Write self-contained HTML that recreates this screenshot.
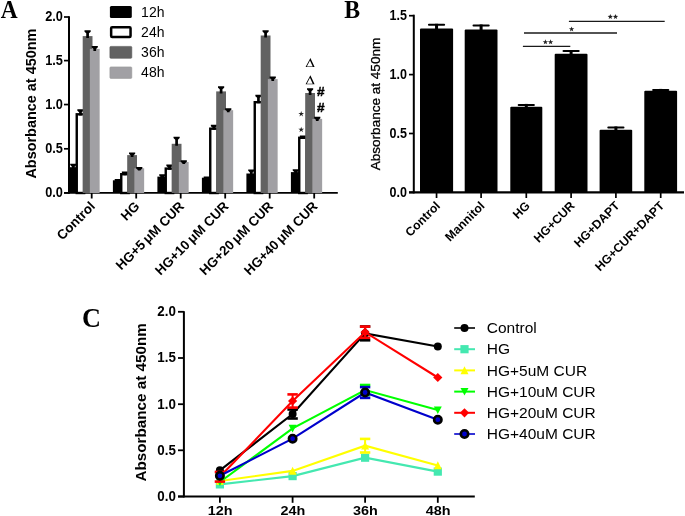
<!DOCTYPE html>
<html><head><meta charset="utf-8"><style>
html,body{margin:0;padding:0;background:#fff;}
svg{display:block;will-change:transform;}
</style></head><body>
<svg width="685" height="516" viewBox="0 0 685 516">
<rect width="685" height="516" fill="#fff"/>
<text transform="translate(0.8,17.6) scale(1,1.12)" font-family='"Liberation Serif", serif' font-weight="bold" font-size="23.4">A</text>
<line x1="69" y1="16.2" x2="69" y2="193.8" stroke="#000" stroke-width="2"/>
<line x1="64" y1="192.9" x2="337.8" y2="192.9" stroke="#000" stroke-width="1.9"/>
<line x1="64" y1="192.90" x2="69" y2="192.90" stroke="#000" stroke-width="1.7"/>
<text transform="translate(62.9,197.20) scale(0.91,1)" text-anchor="end" font-family='"Liberation Sans", sans-serif' font-weight="bold" font-size="14.0">0.0</text>
<line x1="64" y1="148.80" x2="69" y2="148.80" stroke="#000" stroke-width="1.7"/>
<text transform="translate(62.9,153.10) scale(0.91,1)" text-anchor="end" font-family='"Liberation Sans", sans-serif' font-weight="bold" font-size="14.0">0.5</text>
<line x1="64" y1="104.55" x2="69" y2="104.55" stroke="#000" stroke-width="1.7"/>
<text transform="translate(62.9,108.85) scale(0.91,1)" text-anchor="end" font-family='"Liberation Sans", sans-serif' font-weight="bold" font-size="14.0">1.0</text>
<line x1="64" y1="60.60" x2="69" y2="60.60" stroke="#000" stroke-width="1.7"/>
<text transform="translate(62.9,64.90) scale(0.91,1)" text-anchor="end" font-family='"Liberation Sans", sans-serif' font-weight="bold" font-size="14.0">1.5</text>
<line x1="64" y1="17.00" x2="69" y2="17.00" stroke="#000" stroke-width="1.7"/>
<text transform="translate(62.9,21.30) scale(0.91,1)" text-anchor="end" font-family='"Liberation Sans", sans-serif' font-weight="bold" font-size="14.0">2.0</text>
<text transform="translate(35.6,103.6) rotate(-90)" text-anchor="middle" font-family='"Liberation Sans", sans-serif' font-weight="bold" font-size="15.0" textLength="150" lengthAdjust="spacingAndGlyphs">Absorbance at 450nm</text>
<rect x="68.40" y="167.20" width="9.80" height="25.80" fill="#000"/>
<polygon points="70.20,163.70 76.40,163.70 76.40,165.10 74.65,166.70 74.65,169.20 71.95,169.20 71.95,166.70 70.20,165.10" fill="#000"/>
<rect x="76.75" y="114.30" width="7.40" height="78.70" fill="#fff" stroke="#000" stroke-width="2.4"/>
<polygon points="77.35,109.30 83.55,109.30 83.55,110.70 81.80,112.30 81.80,115.40 79.10,115.40 79.10,112.30 77.35,110.70" fill="#000"/>
<rect x="82.70" y="36.10" width="9.80" height="156.90" fill="#626262"/>
<polygon points="84.50,30.30 90.70,30.30 90.70,31.70 88.95,33.30 88.95,38.10 86.25,38.10 86.25,33.30 84.50,31.70" fill="#000"/>
<rect x="89.85" y="48.90" width="9.80" height="144.10" fill="#a1a0a4"/>
<polygon points="91.65,45.90 97.85,45.90 97.85,47.30 96.10,48.90 96.10,50.90 93.40,50.90 93.40,48.90 91.65,47.30" fill="#000"/>
<line x1="91.70" y1="193" x2="91.70" y2="198.5" stroke="#000" stroke-width="1.8"/>
<rect x="112.90" y="180.30" width="9.80" height="12.70" fill="#000"/>
<polygon points="114.70,179.10 120.90,179.10 120.90,180.50 119.15,182.10 119.15,182.50 116.45,182.50 116.45,182.10 114.70,180.50" fill="#000"/>
<rect x="121.25" y="174.20" width="7.40" height="18.80" fill="#fff" stroke="#000" stroke-width="2.4"/>
<polygon points="121.85,171.40 128.05,171.40 128.05,172.80 126.30,174.40 126.30,175.30 123.60,175.30 123.60,174.40 121.85,172.80" fill="#000"/>
<rect x="127.20" y="155.10" width="9.80" height="37.90" fill="#626262"/>
<polygon points="129.00,152.40 135.20,152.40 135.20,153.80 133.45,155.40 133.45,157.10 130.75,157.10 130.75,155.40 129.00,153.80" fill="#000"/>
<rect x="134.35" y="168.30" width="9.80" height="24.70" fill="#a1a0a4"/>
<polygon points="136.15,167.10 142.35,167.10 142.35,168.50 140.60,170.10 140.60,170.50 137.90,170.50 137.90,170.10 136.15,168.50" fill="#000"/>
<line x1="136.20" y1="193" x2="136.20" y2="198.5" stroke="#000" stroke-width="1.8"/>
<rect x="157.40" y="176.60" width="9.80" height="16.40" fill="#000"/>
<polygon points="159.20,174.20 165.40,174.20 165.40,175.60 163.65,177.20 163.65,178.60 160.95,178.60 160.95,177.20 159.20,175.60" fill="#000"/>
<rect x="165.75" y="168.60" width="7.40" height="24.40" fill="#fff" stroke="#000" stroke-width="2.4"/>
<polygon points="166.35,164.50 172.55,164.50 172.55,165.90 170.80,167.50 170.80,169.70 168.10,169.70 168.10,167.50 166.35,165.90" fill="#000"/>
<rect x="171.70" y="143.80" width="9.80" height="49.20" fill="#626262"/>
<polygon points="173.50,136.70 179.70,136.70 179.70,138.10 177.95,139.70 177.95,145.80 175.25,145.80 175.25,139.70 173.50,138.10" fill="#000"/>
<rect x="178.85" y="162.00" width="9.80" height="31.00" fill="#a1a0a4"/>
<polygon points="180.65,160.30 186.85,160.30 186.85,161.70 185.10,163.30 185.10,164.00 182.40,164.00 182.40,163.30 180.65,161.70" fill="#000"/>
<line x1="180.70" y1="193" x2="180.70" y2="198.5" stroke="#000" stroke-width="1.8"/>
<rect x="201.90" y="177.70" width="9.80" height="15.30" fill="#000"/>
<polygon points="203.70,176.60 209.90,176.60 209.90,178.00 208.15,179.60 208.15,180.00 205.45,180.00 205.45,179.60 203.70,178.00" fill="#000"/>
<rect x="210.25" y="128.70" width="7.40" height="64.30" fill="#fff" stroke="#000" stroke-width="2.4"/>
<polygon points="210.85,124.80 217.05,124.80 217.05,126.20 215.30,127.80 215.30,129.80 212.60,129.80 212.60,127.80 210.85,126.20" fill="#000"/>
<rect x="216.20" y="91.40" width="9.80" height="101.60" fill="#626262"/>
<polygon points="218.00,86.30 224.20,86.30 224.20,87.70 222.45,89.30 222.45,93.40 219.75,93.40 219.75,89.30 218.00,87.70" fill="#000"/>
<rect x="223.35" y="110.20" width="9.80" height="82.80" fill="#a1a0a4"/>
<polygon points="225.15,108.30 231.35,108.30 231.35,109.70 229.60,111.30 229.60,112.20 226.90,112.20 226.90,111.30 225.15,109.70" fill="#000"/>
<line x1="225.20" y1="193" x2="225.20" y2="198.5" stroke="#000" stroke-width="1.8"/>
<rect x="246.40" y="173.50" width="9.80" height="19.50" fill="#000"/>
<polygon points="248.20,169.40 254.40,169.40 254.40,170.80 252.65,172.40 252.65,175.50 249.95,175.50 249.95,172.40 248.20,170.80" fill="#000"/>
<rect x="254.75" y="102.20" width="7.40" height="90.80" fill="#fff" stroke="#000" stroke-width="2.4"/>
<polygon points="255.35,94.80 261.55,94.80 261.55,96.20 259.80,97.80 259.80,103.30 257.10,103.30 257.10,97.80 255.35,96.20" fill="#000"/>
<rect x="260.70" y="35.50" width="9.80" height="157.50" fill="#626262"/>
<polygon points="262.50,30.20 268.70,30.20 268.70,31.60 266.95,33.20 266.95,37.50 264.25,37.50 264.25,33.20 262.50,31.60" fill="#000"/>
<rect x="267.85" y="79.10" width="9.80" height="113.90" fill="#a1a0a4"/>
<polygon points="269.65,76.50 275.85,76.50 275.85,77.90 274.10,79.50 274.10,81.10 271.40,81.10 271.40,79.50 269.65,77.90" fill="#000"/>
<line x1="269.70" y1="193" x2="269.70" y2="198.5" stroke="#000" stroke-width="1.8"/>
<rect x="290.90" y="172.10" width="9.80" height="20.90" fill="#000"/>
<polygon points="292.70,169.20 298.90,169.20 298.90,170.60 297.15,172.20 297.15,174.10 294.45,174.10 294.45,172.20 292.70,170.60" fill="#000"/>
<rect x="299.25" y="137.80" width="7.40" height="55.20" fill="#fff" stroke="#000" stroke-width="2.4"/>
<polygon points="299.85,135.60 306.05,135.60 306.05,137.00 304.30,138.60 304.30,139.00 301.60,139.00 301.60,138.60 299.85,137.00" fill="#000"/>
<rect x="305.20" y="93.00" width="9.80" height="100.00" fill="#626262"/>
<polygon points="307.00,88.20 313.20,88.20 313.20,89.60 311.45,91.20 311.45,95.00 308.75,95.00 308.75,91.20 307.00,89.60" fill="#000"/>
<rect x="312.35" y="118.90" width="9.80" height="74.10" fill="#a1a0a4"/>
<polygon points="314.15,116.80 320.35,116.80 320.35,118.20 318.60,119.80 318.60,120.90 315.90,120.90 315.90,119.80 314.15,118.20" fill="#000"/>
<line x1="314.20" y1="193" x2="314.20" y2="198.5" stroke="#000" stroke-width="1.8"/>
<text transform="translate(95.90,207.20) rotate(-45)" text-anchor="end" font-family='"Liberation Sans", sans-serif' font-weight="bold" font-size="13.4">Control</text>
<text transform="translate(140.40,207.20) rotate(-45)" text-anchor="end" font-family='"Liberation Sans", sans-serif' font-weight="bold" font-size="13.4">HG</text>
<text transform="translate(184.90,207.20) rotate(-45)" text-anchor="end" font-family='"Liberation Sans", sans-serif' font-weight="bold" font-size="13.4">HG+5 <tspan dx="-1.3">μ</tspan>M CUR</text>
<text transform="translate(229.40,207.20) rotate(-45)" text-anchor="end" font-family='"Liberation Sans", sans-serif' font-weight="bold" font-size="13.4">HG+10 <tspan dx="-1.3">μ</tspan>M CUR</text>
<text transform="translate(273.90,207.20) rotate(-45)" text-anchor="end" font-family='"Liberation Sans", sans-serif' font-weight="bold" font-size="13.4">HG+20 <tspan dx="-1.3">μ</tspan>M CUR</text>
<text transform="translate(318.40,207.20) rotate(-45)" text-anchor="end" font-family='"Liberation Sans", sans-serif' font-weight="bold" font-size="13.4">HG+40 <tspan dx="-1.3">μ</tspan>M CUR</text>
<rect x="109.9" y="5.9" width="21.9" height="12" rx="1.5" fill="#000"/>
<rect x="111.15" y="27.35" width="19.4" height="9.7" rx="1" fill="#fff" stroke="#000" stroke-width="2.5"/>
<rect x="109.9" y="46.4" width="21.9" height="11.9" rx="1" fill="#626262" stroke="#555" stroke-width="0.6"/>
<rect x="109.9" y="66.9" width="21.9" height="11.5" rx="1" fill="#a1a0a4" stroke="#999" stroke-width="0.6"/>
<text x="141.1" y="16.80" font-family='"Liberation Sans", sans-serif' font-size="14">12h</text>
<text x="141.1" y="36.90" font-family='"Liberation Sans", sans-serif' font-size="14">24h</text>
<text x="141.1" y="57.00" font-family='"Liberation Sans", sans-serif' font-size="14">36h</text>
<text x="141.1" y="77.10" font-family='"Liberation Sans", sans-serif' font-size="14">48h</text>
<path d="M310.40,58.00 L314.60,67.00 L305.60,67.00 Z M309.97,60.62 L312.73,66.55 L306.80,66.55 Z" fill="#000" fill-rule="evenodd"/>
<path d="M310.40,75.20 L314.60,84.20 L305.60,84.20 Z M309.97,77.82 L312.73,83.75 L306.80,83.75 Z" fill="#000" fill-rule="evenodd"/>
<text x="316.9" y="96.1" font-family='"Liberation Sans", sans-serif' font-weight="bold" font-size="13.6" stroke="#000" stroke-width="0.45">#</text>
<text x="316.9" y="112.3" font-family='"Liberation Sans", sans-serif' font-weight="bold" font-size="13.6" stroke="#000" stroke-width="0.45">#</text>
<polygon points="301.20,111.00 301.85,113.11 304.05,113.07 302.25,114.34 302.96,116.43 301.20,115.10 299.44,116.43 300.15,114.34 298.35,113.07 300.55,113.11" fill="#222"/>
<polygon points="301.20,126.70 301.85,128.81 304.05,128.77 302.25,130.04 302.96,132.13 301.20,130.80 299.44,132.13 300.15,130.04 298.35,128.77 300.55,128.81" fill="#222"/>
<text transform="translate(344.3,17.5) scale(1,1.08)" font-family='"Liberation Serif", serif' font-weight="bold" font-size="23.8">B</text>
<line x1="413.8" y1="14.7" x2="413.8" y2="193.4" stroke="#000" stroke-width="2"/>
<line x1="409" y1="192.4" x2="684" y2="192.4" stroke="#000" stroke-width="2.2"/>
<line x1="409" y1="192.40" x2="413.8" y2="192.40" stroke="#000" stroke-width="1.7"/>
<text transform="translate(406.9,196.70) scale(0.9,1)" text-anchor="end" font-family='"Liberation Sans", sans-serif' font-weight="bold" font-size="13.9">0.0</text>
<line x1="409" y1="133.50" x2="413.8" y2="133.50" stroke="#000" stroke-width="1.7"/>
<text transform="translate(406.9,137.80) scale(0.9,1)" text-anchor="end" font-family='"Liberation Sans", sans-serif' font-weight="bold" font-size="13.9">0.5</text>
<line x1="409" y1="74.60" x2="413.8" y2="74.60" stroke="#000" stroke-width="1.7"/>
<text transform="translate(406.9,78.90) scale(0.9,1)" text-anchor="end" font-family='"Liberation Sans", sans-serif' font-weight="bold" font-size="13.9">1.0</text>
<line x1="409" y1="15.70" x2="413.8" y2="15.70" stroke="#000" stroke-width="1.7"/>
<text transform="translate(406.9,20.00) scale(0.9,1)" text-anchor="end" font-family='"Liberation Sans", sans-serif' font-weight="bold" font-size="13.9">1.5</text>
<text transform="translate(379.6,104) rotate(-90)" text-anchor="middle" font-family='"Liberation Sans", sans-serif' font-size="13.5" stroke="#000" stroke-width="0.3" textLength="132.5" lengthAdjust="spacingAndGlyphs">Absorbance at 450nm</text>
<rect x="420.00" y="28.50" width="33.10" height="163.90" rx="1" fill="#000"/>
<rect x="435.05" y="23.80" width="3" height="5.70" fill="#000"/>
<rect x="427.95" y="23.80" width="17.2" height="2" rx="1" fill="#000"/>
<line x1="436.55" y1="192" x2="436.55" y2="198" stroke="#000" stroke-width="1.7"/>
<text transform="translate(440.95,206.60) rotate(-45)" text-anchor="end" font-family='"Liberation Sans", sans-serif' font-weight="bold" font-size="12.2">Control</text>
<rect x="464.70" y="29.50" width="32.80" height="162.90" rx="1" fill="#000"/>
<rect x="479.60" y="24.50" width="3" height="6.00" fill="#000"/>
<rect x="472.50" y="24.50" width="17.2" height="2" rx="1" fill="#000"/>
<line x1="481.10" y1="192" x2="481.10" y2="198" stroke="#000" stroke-width="1.7"/>
<text transform="translate(485.50,206.60) rotate(-45)" text-anchor="end" font-family='"Liberation Sans", sans-serif' font-weight="bold" font-size="12.2">Mannitol</text>
<rect x="510.30" y="106.80" width="32.00" height="85.60" rx="1" fill="#000"/>
<rect x="524.80" y="103.90" width="3" height="3.90" fill="#000"/>
<rect x="517.70" y="103.90" width="17.2" height="2" rx="1" fill="#000"/>
<line x1="526.30" y1="192" x2="526.30" y2="198" stroke="#000" stroke-width="1.7"/>
<text transform="translate(530.70,206.60) rotate(-45)" text-anchor="end" font-family='"Liberation Sans", sans-serif' font-weight="bold" font-size="12.2">HG</text>
<rect x="554.70" y="53.80" width="32.80" height="138.60" rx="1" fill="#000"/>
<rect x="569.60" y="50.10" width="3" height="4.70" fill="#000"/>
<rect x="562.50" y="50.10" width="17.2" height="2" rx="1" fill="#000"/>
<line x1="571.10" y1="192" x2="571.10" y2="198" stroke="#000" stroke-width="1.7"/>
<text transform="translate(575.50,206.60) rotate(-45)" text-anchor="end" font-family='"Liberation Sans", sans-serif' font-weight="bold" font-size="12.2">HG+CUR</text>
<rect x="599.60" y="129.70" width="32.60" height="62.70" rx="1" fill="#000"/>
<rect x="614.40" y="126.50" width="3" height="4.20" fill="#000"/>
<rect x="607.30" y="126.50" width="17.2" height="2" rx="1" fill="#000"/>
<line x1="615.90" y1="192" x2="615.90" y2="198" stroke="#000" stroke-width="1.7"/>
<text transform="translate(620.30,206.60) rotate(-45)" text-anchor="end" font-family='"Liberation Sans", sans-serif' font-weight="bold" font-size="12.2">HG+DAPT</text>
<rect x="644.30" y="90.80" width="32.80" height="101.60" rx="1" fill="#000"/>
<rect x="659.20" y="88.90" width="3" height="2.90" fill="#000"/>
<rect x="652.10" y="88.90" width="17.2" height="2" rx="1" fill="#000"/>
<line x1="660.70" y1="192" x2="660.70" y2="198" stroke="#000" stroke-width="1.7"/>
<text transform="translate(665.10,206.60) rotate(-45)" text-anchor="end" font-family='"Liberation Sans", sans-serif' font-weight="bold" font-size="12.2">HG+CUR+DAPT</text>
<line x1="568.9" y1="21.4" x2="664.7" y2="21.4" stroke="#1a1a1a" stroke-width="1.4"/>
<polygon points="610.30,14.00 610.98,15.87 612.96,15.93 611.39,17.16 611.95,19.07 610.30,17.95 608.65,19.07 609.21,17.16 607.64,15.93 609.62,15.87" fill="#222"/>
<polygon points="615.50,14.00 616.18,15.87 618.16,15.93 616.59,17.16 617.15,19.07 615.50,17.95 613.85,19.07 614.41,17.16 612.84,15.93 614.82,15.87" fill="#222"/>
<line x1="524" y1="33.0" x2="617" y2="33.0" stroke="#1a1a1a" stroke-width="1.4"/>
<polygon points="571.60,26.40 572.28,28.27 574.26,28.33 572.69,29.56 573.25,31.47 571.60,30.35 569.95,31.47 570.51,29.56 568.94,28.33 570.92,28.27" fill="#222"/>
<line x1="522.9" y1="46.4" x2="570.3" y2="46.4" stroke="#1a1a1a" stroke-width="1.4"/>
<polygon points="545.40,39.30 546.08,41.17 548.06,41.23 546.49,42.46 547.05,44.37 545.40,43.25 543.75,44.37 544.31,42.46 542.74,41.23 544.72,41.17" fill="#222"/>
<polygon points="550.60,39.30 551.28,41.17 553.26,41.23 551.69,42.46 552.25,44.37 550.60,43.25 548.95,44.37 549.51,42.46 547.94,41.23 549.92,41.17" fill="#222"/>
<text transform="translate(82,326.5) scale(1,1.074)" font-family='"Liberation Serif", serif' font-weight="bold" font-size="26.2">C</text>
<line x1="183.9" y1="311.2" x2="183.9" y2="497.4" stroke="#000" stroke-width="2"/>
<line x1="178" y1="496.5" x2="474.8" y2="496.5" stroke="#000" stroke-width="1.9"/>
<line x1="178" y1="496.50" x2="183.9" y2="496.50" stroke="#000" stroke-width="1.8"/>
<text transform="translate(175.9,500.80) scale(0.885,1)" text-anchor="end" font-family='"Liberation Sans", sans-serif' font-weight="bold" font-size="15.1">0.0</text>
<line x1="178" y1="450.30" x2="183.9" y2="450.30" stroke="#000" stroke-width="1.8"/>
<text transform="translate(175.9,454.60) scale(0.885,1)" text-anchor="end" font-family='"Liberation Sans", sans-serif' font-weight="bold" font-size="15.1">0.5</text>
<line x1="178" y1="404.20" x2="183.9" y2="404.20" stroke="#000" stroke-width="1.8"/>
<text transform="translate(175.9,408.50) scale(0.885,1)" text-anchor="end" font-family='"Liberation Sans", sans-serif' font-weight="bold" font-size="15.1">1.0</text>
<line x1="178" y1="358.00" x2="183.9" y2="358.00" stroke="#000" stroke-width="1.8"/>
<text transform="translate(175.9,362.30) scale(0.885,1)" text-anchor="end" font-family='"Liberation Sans", sans-serif' font-weight="bold" font-size="15.1">1.5</text>
<line x1="178" y1="311.80" x2="183.9" y2="311.80" stroke="#000" stroke-width="1.8"/>
<text transform="translate(175.9,316.10) scale(0.885,1)" text-anchor="end" font-family='"Liberation Sans", sans-serif' font-weight="bold" font-size="15.1">2.0</text>
<text transform="translate(145.9,402.4) rotate(-90)" text-anchor="middle" font-family='"Liberation Sans", sans-serif' font-weight="bold" font-size="15.4" textLength="158.4" lengthAdjust="spacingAndGlyphs">Absorbance at 450nm</text>
<line x1="219.9" y1="496.5" x2="219.9" y2="502.8" stroke="#000" stroke-width="1.8"/>
<text x="220.20000000000002" y="514.6" text-anchor="middle" font-family='"Liberation Sans", sans-serif' font-weight="bold" font-size="13.4" textLength="24.8" lengthAdjust="spacingAndGlyphs">12h</text>
<line x1="292.6" y1="496.5" x2="292.6" y2="502.8" stroke="#000" stroke-width="1.8"/>
<text x="292.90000000000003" y="514.6" text-anchor="middle" font-family='"Liberation Sans", sans-serif' font-weight="bold" font-size="13.4" textLength="24.8" lengthAdjust="spacingAndGlyphs">24h</text>
<line x1="365.1" y1="496.5" x2="365.1" y2="502.8" stroke="#000" stroke-width="1.8"/>
<text x="365.40000000000003" y="514.6" text-anchor="middle" font-family='"Liberation Sans", sans-serif' font-weight="bold" font-size="13.4" textLength="24.8" lengthAdjust="spacingAndGlyphs">36h</text>
<line x1="437.8" y1="496.5" x2="437.8" y2="502.8" stroke="#000" stroke-width="1.8"/>
<text x="438.1" y="514.6" text-anchor="middle" font-family='"Liberation Sans", sans-serif' font-weight="bold" font-size="13.4" textLength="24.8" lengthAdjust="spacingAndGlyphs">48h</text>
<polyline points="219.9,470.3 292.6,414.0 365.1,333.4 437.8,346.5" fill="none" stroke="#000" stroke-width="2.1"/>
<line x1="292.6" y1="409.5" x2="292.6" y2="418.5" stroke="#000" stroke-width="2"/>
<line x1="287.40000000000003" y1="409.5" x2="297.8" y2="409.5" stroke="#000" stroke-width="2.6"/>
<line x1="287.40000000000003" y1="418.5" x2="297.8" y2="418.5" stroke="#000" stroke-width="2.6"/>
<line x1="365.1" y1="326.5" x2="365.1" y2="340.29999999999995" stroke="#000" stroke-width="2"/>
<line x1="359.90000000000003" y1="326.5" x2="370.3" y2="326.5" stroke="#000" stroke-width="2.6"/>
<line x1="359.90000000000003" y1="340.29999999999995" x2="370.3" y2="340.29999999999995" stroke="#000" stroke-width="2.6"/>
<circle cx="219.9" cy="470.3" r="4" fill="#000"/>
<circle cx="292.6" cy="414.0" r="4" fill="#000"/>
<circle cx="365.1" cy="333.4" r="4" fill="#000"/>
<circle cx="437.8" cy="346.5" r="4" fill="#000"/>
<polyline points="219.9,484.4 292.6,476.1 365.1,457.7 437.8,471.6" fill="none" stroke="#44e8b0" stroke-width="2.1"/>
<rect x="215.8" y="480.29999999999995" width="8.2" height="8.2" fill="#44e8b0"/>
<rect x="288.5" y="472.0" width="8.2" height="8.2" fill="#44e8b0"/>
<rect x="361.0" y="453.59999999999997" width="8.2" height="8.2" fill="#44e8b0"/>
<rect x="433.7" y="467.5" width="8.2" height="8.2" fill="#44e8b0"/>
<polyline points="219.9,481.0 292.6,470.9 365.1,445.7 437.8,465.4" fill="none" stroke="#ffff00" stroke-width="2.1"/>
<line x1="365.1" y1="438.9" x2="365.1" y2="452.5" stroke="#ffff00" stroke-width="2"/>
<line x1="359.90000000000003" y1="438.9" x2="370.3" y2="438.9" stroke="#ffff00" stroke-width="2.6"/>
<line x1="359.90000000000003" y1="452.5" x2="370.3" y2="452.5" stroke="#ffff00" stroke-width="2.6"/>
<polygon points="219.9,476.8 223.9,484.8 215.9,484.8" fill="#ffff00"/>
<polygon points="292.6,466.7 296.6,474.7 288.6,474.7" fill="#ffff00"/>
<polygon points="365.1,441.5 369.1,449.5 361.1,449.5" fill="#ffff00"/>
<polygon points="437.8,461.2 441.8,469.2 433.8,469.2" fill="#ffff00"/>
<polyline points="219.9,482.0 292.6,428.4 365.1,390.0 437.8,410.0" fill="none" stroke="#00ff00" stroke-width="2.1"/>
<line x1="365.1" y1="385.0" x2="365.1" y2="395.0" stroke="#00ff00" stroke-width="2"/>
<line x1="359.90000000000003" y1="385.0" x2="370.3" y2="385.0" stroke="#00ff00" stroke-width="2.6"/>
<line x1="359.90000000000003" y1="395.0" x2="370.3" y2="395.0" stroke="#00ff00" stroke-width="2.6"/>
<polygon points="215.9,478.4 223.9,478.4 219.9,486.0" fill="#00ff00"/>
<polygon points="288.6,424.79999999999995 296.6,424.79999999999995 292.6,432.4" fill="#00ff00"/>
<polygon points="361.1,386.4 369.1,386.4 365.1,394.0" fill="#00ff00"/>
<polygon points="433.8,406.4 441.8,406.4 437.8,414.0" fill="#00ff00"/>
<polyline points="219.9,476.8 292.6,401.0 365.1,332.2 437.8,377.5" fill="none" stroke="#ff0000" stroke-width="2.1"/>
<line x1="219.9" y1="472.0" x2="219.9" y2="481.6" stroke="#ff0000" stroke-width="2"/>
<line x1="214.70000000000002" y1="472.0" x2="225.1" y2="472.0" stroke="#ff0000" stroke-width="2.6"/>
<line x1="214.70000000000002" y1="481.6" x2="225.1" y2="481.6" stroke="#ff0000" stroke-width="2.6"/>
<line x1="292.6" y1="394.4" x2="292.6" y2="407.6" stroke="#ff0000" stroke-width="2"/>
<line x1="287.40000000000003" y1="394.4" x2="297.8" y2="394.4" stroke="#ff0000" stroke-width="2.6"/>
<line x1="287.40000000000003" y1="407.6" x2="297.8" y2="407.6" stroke="#ff0000" stroke-width="2.6"/>
<line x1="365.1" y1="326.59999999999997" x2="365.1" y2="337.8" stroke="#ff0000" stroke-width="2"/>
<line x1="359.90000000000003" y1="326.59999999999997" x2="370.3" y2="326.59999999999997" stroke="#ff0000" stroke-width="2.6"/>
<line x1="359.90000000000003" y1="337.8" x2="370.3" y2="337.8" stroke="#ff0000" stroke-width="2.6"/>
<polygon points="219.9,472.2 224.5,476.8 219.9,481.40000000000003 215.3,476.8" fill="#ff0000"/>
<polygon points="292.6,396.4 297.20000000000005,401.0 292.6,405.6 288.0,401.0" fill="#ff0000"/>
<polygon points="365.1,327.59999999999997 369.70000000000005,332.2 365.1,336.8 360.5,332.2" fill="#ff0000"/>
<polygon points="437.8,372.9 442.40000000000003,377.5 437.8,382.1 433.2,377.5" fill="#ff0000"/>
<polyline points="219.9,475.8 292.6,438.7 365.1,392.5 437.8,419.7" fill="none" stroke="#0000cc" stroke-width="2.1"/>
<line x1="365.1" y1="387.1" x2="365.1" y2="397.9" stroke="#0000cc" stroke-width="2"/>
<line x1="359.90000000000003" y1="387.1" x2="370.3" y2="387.1" stroke="#0000cc" stroke-width="2.6"/>
<line x1="359.90000000000003" y1="397.9" x2="370.3" y2="397.9" stroke="#0000cc" stroke-width="2.6"/>
<circle cx="219.9" cy="475.8" r="3.7" fill="#0000cc" stroke="#000" stroke-width="2.6"/>
<circle cx="292.6" cy="438.7" r="3.7" fill="#0000cc" stroke="#000" stroke-width="2.6"/>
<circle cx="365.1" cy="392.5" r="3.7" fill="#0000cc" stroke="#000" stroke-width="2.6"/>
<circle cx="437.8" cy="419.7" r="3.7" fill="#0000cc" stroke="#000" stroke-width="2.6"/>
<line x1="454.2" y1="328.00" x2="475" y2="328.00" stroke="#000" stroke-width="1.6"/>
<circle cx="464.5" cy="328.0" r="4" fill="#000"/>
<text x="486.8" y="333.10" font-family='"Liberation Sans", sans-serif' font-size="15.5">Control</text>
<line x1="454.2" y1="349.20" x2="475" y2="349.20" stroke="#44e8b0" stroke-width="2"/>
<rect x="460.4" y="345.09999999999997" width="8.2" height="8.2" fill="#44e8b0"/>
<text x="486.8" y="354.30" font-family='"Liberation Sans", sans-serif' font-size="15.5">HG</text>
<line x1="454.2" y1="370.40" x2="475" y2="370.40" stroke="#ffff00" stroke-width="2"/>
<polygon points="464.5,366.2 468.5,374.2 460.5,374.2" fill="#ffff00"/>
<text x="486.8" y="375.50" font-family='"Liberation Sans", sans-serif' font-size="15.5">HG+5uM CUR</text>
<line x1="454.2" y1="391.60" x2="475" y2="391.60" stroke="#00ff00" stroke-width="2"/>
<polygon points="460.5,388.0 468.5,388.0 464.5,395.6" fill="#00ff00"/>
<text x="486.8" y="396.70" font-family='"Liberation Sans", sans-serif' font-size="15.5">HG+10uM CUR</text>
<line x1="454.2" y1="412.80" x2="475" y2="412.80" stroke="#ff0000" stroke-width="2"/>
<polygon points="464.5,408.2 469.1,412.8 464.5,417.40000000000003 459.9,412.8" fill="#ff0000"/>
<text x="486.8" y="417.90" font-family='"Liberation Sans", sans-serif' font-size="15.5">HG+20uM CUR</text>
<line x1="454.2" y1="434.00" x2="475" y2="434.00" stroke="#0000cc" stroke-width="1.6"/>
<circle cx="464.5" cy="434.0" r="3.7" fill="#0000cc" stroke="#000" stroke-width="2.6"/>
<text x="486.8" y="439.10" font-family='"Liberation Sans", sans-serif' font-size="15.5">HG+40uM CUR</text>
</svg>
</body></html>
